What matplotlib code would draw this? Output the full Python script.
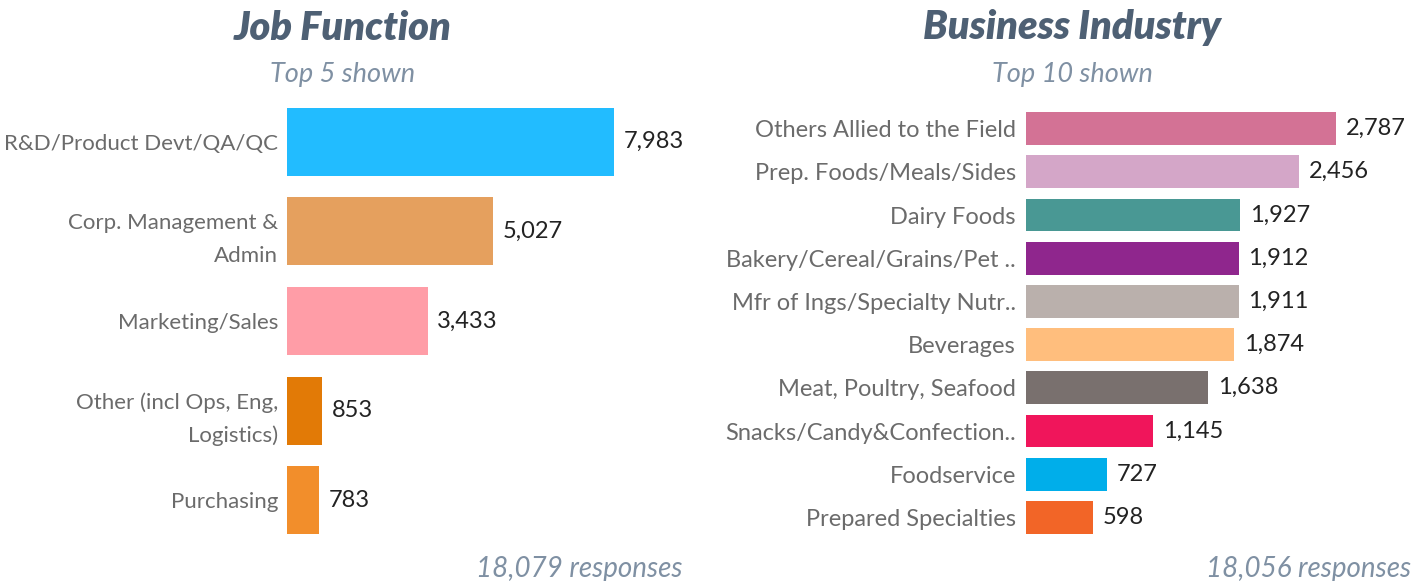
import matplotlib
matplotlib.use("Agg")
import matplotlib.pyplot as plt

plt.rcParams['font.family'] = ['Lato', 'DejaVu Sans']

job_labels = ["R&D/Product Devt/QA/QC", "Corp. Management &\nAdmin", "Marketing/Sales",
              "Other (incl Ops, Eng,\nLogistics)", "Purchasing"]
job_values = [7983, 5027, 3433, 853, 783]
job_colors = ["#22bcff", "#e5a05e", "#ff9da7", "#e27a06", "#f28e2b"]

ind_labels = ["Others Allied to the Field", "Prep. Foods/Meals/Sides", "Dairy Foods",
              "Bakery/Cereal/Grains/Pet ..", "Mfr of Ings/Specialty Nutr..", "Beverages",
              "Meat, Poultry, Seafood", "Snacks/Candy&Confection..", "Foodservice",
              "Prepared Specialties"]
ind_values = [2787, 2456, 1927, 1912, 1911, 1874, 1638, 1145, 727, 598]
ind_colors = ["#d37295", "#d4a6c8", "#499894", "#8f268d", "#bab0ac", "#ffbe7d",
              "#79706e", "#f0155b", "#00aeea", "#f26527"]

titles = ["Job Function", "Business Industry"]
subtitles = ["Top 5 shown", "Top 10 shown"]
footers = ["18,079 responses", "18,056 responses"]

W, H = 1413, 581
fig = plt.figure(figsize=(W / 100, H / 100), dpi=100)

def px_axes(left, top, width, height):
    return fig.add_axes([left / W, 1 - (top + height) / H, width / W, height / H])

title_color = "#4e6074"
sub_color = "#7f90a3"
label_color = "#6b6b6b"

def draw(ax, labels, values, colors, px_per_unit, width_px, pad_px, fs):
    y = list(range(len(values)))
    ax.barh(y, values, height=0.76, color=colors)
    ax.set_xlim(0, width_px / px_per_unit)
    ax.set_ylim(len(values) - 0.5, -0.5)
    ax.set_yticks(y)
    ax.set_yticklabels(labels, fontsize=fs, color=label_color, linespacing=1.8)
    ax.tick_params(axis='y', length=0, pad=pad_px * 0.72)
    ax.set_xticks([])
    for s in ax.spines.values():
        s.set_visible(False)
    for yi, v in zip(y, values):
        ax.annotate(f"{v:,}", (v, yi), xytext=(7, 0), textcoords='offset points',
                    va='center', ha='left', fontsize=17, color="#222222")

# Left panel
axL = px_axes(287, 97, 400, 448)
draw(axL, job_labels, job_values, job_colors, 327 / 7983, 400, 9, 16)

# Right panel
axR = px_axes(1026, 107, 380, 432)
draw(axR, ind_labels, ind_values, ind_colors, 310 / 2787, 380, 10, 17)

for cx, t, s in [(343, titles[0], subtitles[0]), (1072, titles[1], subtitles[1])]:
    fig.text(cx / W, 1 - 28 / H, t, ha='center', va='center', fontsize=28.5,
             fontweight='heavy', fontstyle='italic', color=title_color)
    fig.text(cx / W, 1 - 74 / H, s, ha='center', va='center', fontsize=19.5,
             fontweight='normal', fontstyle='italic', color=sub_color)

fig.text(682 / W, 1 - 569 / H, footers[0], ha='right', va='center', fontsize=20,
         fontweight='normal', fontstyle='italic', color=sub_color)
fig.text(1411 / W, 1 - 569 / H, footers[1], ha='right', va='center', fontsize=20,
         fontweight='normal', fontstyle='italic', color=sub_color)

fig.savefig("out.png", dpi=100)
